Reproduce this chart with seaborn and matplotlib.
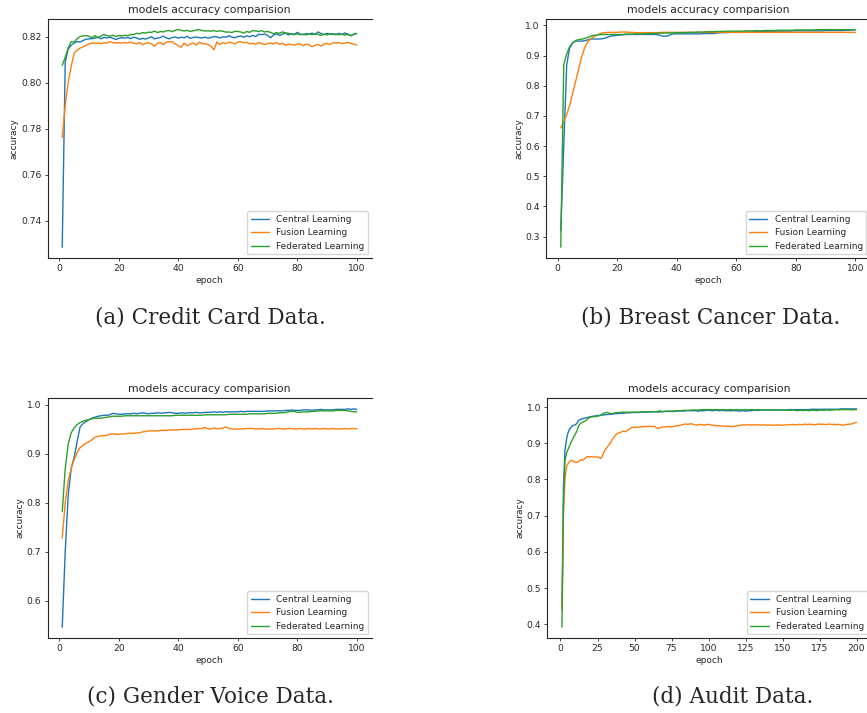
import matplotlib
matplotlib.use("Agg")
import matplotlib.pyplot as plt
import seaborn as sns
import pandas as pd

model_names = ["Central Learning", "Fusion Learning", "Federated Learning"]

# (a) Credit Card Data, 100 epochs
credit_central = [
    0.7285, 0.8090, 0.8145, 0.8162, 0.8172, 0.8178, 0.8176, 0.8183, 0.8188, 0.8190,
    0.8191, 0.8193, 0.8198, 0.8190, 0.8196, 0.8194, 0.8197, 0.8193, 0.8187, 0.8192,
    0.8195, 0.8193, 0.8196, 0.8191, 0.8197, 0.8194, 0.8188, 0.8192, 0.8189, 0.8194,
    0.8199, 0.8190, 0.8193, 0.8196, 0.8202, 0.8194, 0.8190, 0.8196, 0.8198, 0.8193,
    0.8197, 0.8195, 0.8201, 0.8192, 0.8196, 0.8198, 0.8195, 0.8194, 0.8197, 0.8193,
    0.8196, 0.8200, 0.8198, 0.8194, 0.8199, 0.8197, 0.8203, 0.8198, 0.8195, 0.8200,
    0.8202, 0.8197, 0.8203, 0.8199, 0.8205, 0.8200, 0.8210, 0.8208, 0.8211, 0.8205,
    0.8195, 0.8206, 0.8212, 0.8205, 0.8210, 0.8215, 0.8207, 0.8212, 0.8210, 0.8218,
    0.8211, 0.8208, 0.8213, 0.8210, 0.8215, 0.8209, 0.8220, 0.8213, 0.8208, 0.8214,
    0.8210, 0.8212, 0.8207, 0.8214, 0.8209, 0.8215, 0.8211, 0.8203, 0.8210, 0.8213,
]
credit_fusion = [
    0.7760, 0.7900, 0.8000, 0.8070, 0.8128, 0.8140, 0.8150, 0.8155, 0.8162, 0.8168,
    0.8172, 0.8170, 0.8172, 0.8169, 0.8173, 0.8171, 0.8178, 0.8174, 0.8172, 0.8173,
    0.8171, 0.8174, 0.8172, 0.8175, 0.8171, 0.8168, 0.8174, 0.8165, 0.8170, 0.8173,
    0.8168, 0.8158, 0.8170, 0.8174, 0.8165, 0.8176, 0.8178, 0.8177, 0.8168, 0.8160,
    0.8153, 0.8172, 0.8160, 0.8168, 0.8172, 0.8163, 0.8175, 0.8170, 0.8168, 0.8165,
    0.8158, 0.8143, 0.8177, 0.8165, 0.8173, 0.8170, 0.8175, 0.8172, 0.8168, 0.8176,
    0.8178, 0.8172, 0.8175, 0.8168, 0.8171, 0.8166, 0.8174, 0.8170, 0.8165, 0.8169,
    0.8172, 0.8168, 0.8174, 0.8166, 0.8171, 0.8162, 0.8167, 0.8165, 0.8163, 0.8167,
    0.8168, 0.8160, 0.8167, 0.8164, 0.8156, 0.8162, 0.8165, 0.8159, 0.8168, 0.8170,
    0.8165, 0.8173, 0.8171, 0.8174, 0.8169, 0.8172, 0.8175, 0.8170, 0.8167, 0.8163,
]
credit_federated = [
    0.8075, 0.8110, 0.8150, 0.8178, 0.8176, 0.8190, 0.8200, 0.8203, 0.8204, 0.8201,
    0.8195, 0.8204, 0.8194, 0.8202, 0.8209, 0.8204, 0.8202, 0.8206, 0.8200, 0.8204,
    0.8203, 0.8205, 0.8204, 0.8208, 0.8209, 0.8214, 0.8212, 0.8217, 0.8215, 0.8219,
    0.8218, 0.8224, 0.8217, 0.8222, 0.8220, 0.8225, 0.8226, 0.8221, 0.8228, 0.8230,
    0.8227, 0.8224, 0.8227, 0.8222, 0.8225, 0.8228, 0.8230, 0.8226, 0.8224, 0.8225,
    0.8223, 0.8226, 0.8222, 0.8225, 0.8223, 0.8219, 0.8220, 0.8217, 0.8223, 0.8222,
    0.8220, 0.8215, 0.8222, 0.8218, 0.8226, 0.8224, 0.8222, 0.8226, 0.8220, 0.8222,
    0.8218, 0.8212, 0.8217, 0.8214, 0.8220, 0.8216, 0.8214, 0.8210, 0.8208, 0.8212,
    0.8208, 0.8210, 0.8207, 0.8211, 0.8208, 0.8213, 0.8209, 0.8205, 0.8211, 0.8207,
    0.8212, 0.8209, 0.8211, 0.8208, 0.8210, 0.8206, 0.8209, 0.8204, 0.8210, 0.8214,
]

# (b) Breast Cancer Data, 100 epochs
cancer_central = [
    0.320, 0.600, 0.870, 0.925, 0.942, 0.948, 0.948, 0.948, 0.949, 0.952,
    0.955, 0.955, 0.955, 0.955, 0.956, 0.958, 0.962, 0.965, 0.966, 0.967,
    0.968, 0.969, 0.970, 0.970, 0.970, 0.970, 0.970, 0.970, 0.970, 0.970,
    0.970, 0.970, 0.970, 0.968, 0.965, 0.964, 0.965, 0.970, 0.972, 0.972,
    0.972, 0.972, 0.972, 0.972, 0.972, 0.972, 0.972, 0.972, 0.973, 0.973,
    0.973, 0.973, 0.974, 0.975, 0.976, 0.976, 0.976, 0.977, 0.977, 0.977,
    0.977, 0.977, 0.978, 0.978, 0.978, 0.979, 0.980, 0.980, 0.980, 0.980,
    0.980, 0.980, 0.981, 0.981, 0.981, 0.981, 0.981, 0.981, 0.982, 0.982,
    0.982, 0.982, 0.982, 0.982, 0.982, 0.982, 0.982, 0.982, 0.982, 0.983,
    0.983, 0.983, 0.983, 0.983, 0.983, 0.983, 0.984, 0.984, 0.985, 0.985,
]
cancer_fusion = [
    0.660, 0.680, 0.705, 0.735, 0.775, 0.815, 0.855, 0.895, 0.925, 0.945,
    0.955, 0.962, 0.967, 0.972, 0.975, 0.976, 0.977, 0.977, 0.977, 0.977,
    0.978, 0.978, 0.978, 0.977, 0.977, 0.976, 0.976, 0.976, 0.976, 0.976,
    0.976, 0.976, 0.976, 0.976, 0.977, 0.977, 0.977, 0.977, 0.977, 0.977,
    0.977, 0.977, 0.977, 0.977, 0.977, 0.977, 0.977, 0.977, 0.977, 0.977,
    0.977, 0.977, 0.977, 0.977, 0.977, 0.977, 0.977, 0.977, 0.977, 0.977,
    0.977, 0.977, 0.977, 0.977, 0.977, 0.977, 0.977, 0.977, 0.977, 0.977,
    0.977, 0.977, 0.977, 0.977, 0.977, 0.977, 0.977, 0.977, 0.977, 0.977,
    0.977, 0.977, 0.977, 0.977, 0.977, 0.977, 0.977, 0.977, 0.977, 0.977,
    0.977, 0.977, 0.977, 0.977, 0.977, 0.977, 0.977, 0.977, 0.977, 0.977,
]
cancer_federated = [
    0.265, 0.870, 0.905, 0.930, 0.942, 0.950, 0.953, 0.954, 0.957, 0.960,
    0.964, 0.967, 0.968, 0.969, 0.970, 0.970, 0.970, 0.970, 0.970, 0.970,
    0.970, 0.970, 0.971, 0.971, 0.971, 0.972, 0.972, 0.972, 0.972, 0.973,
    0.973, 0.973, 0.974, 0.974, 0.974, 0.975, 0.975, 0.975, 0.975, 0.976,
    0.976, 0.976, 0.976, 0.977, 0.977, 0.977, 0.978, 0.978, 0.978, 0.979,
    0.979, 0.979, 0.980, 0.980, 0.980, 0.980, 0.981, 0.981, 0.981, 0.981,
    0.981, 0.981, 0.982, 0.982, 0.982, 0.982, 0.983, 0.982, 0.983, 0.983,
    0.983, 0.983, 0.983, 0.984, 0.984, 0.984, 0.984, 0.984, 0.984, 0.985,
    0.985, 0.985, 0.985, 0.985, 0.985, 0.985, 0.986, 0.986, 0.986, 0.986,
    0.986, 0.986, 0.986, 0.986, 0.986, 0.986, 0.986, 0.986, 0.986, 0.986,
]

# (c) Gender Voice Data, 100 epochs
voice_central = [
    0.546, 0.700, 0.815, 0.870, 0.893, 0.925, 0.955, 0.962, 0.966, 0.970,
    0.973, 0.975, 0.977, 0.978, 0.979, 0.979, 0.980, 0.983, 0.982, 0.981,
    0.981, 0.982, 0.982, 0.982, 0.983, 0.982, 0.983, 0.984, 0.983, 0.982,
    0.983, 0.983, 0.984, 0.983, 0.984, 0.984, 0.985, 0.984, 0.983, 0.983,
    0.984, 0.983, 0.984, 0.984, 0.984, 0.985, 0.984, 0.984, 0.985, 0.985,
    0.985, 0.986, 0.985, 0.986, 0.985, 0.986, 0.986, 0.986, 0.986, 0.986,
    0.987, 0.986, 0.987, 0.987, 0.987, 0.987, 0.987, 0.987, 0.987, 0.988,
    0.988, 0.988, 0.988, 0.988, 0.988, 0.989, 0.989, 0.990, 0.989, 0.989,
    0.989, 0.990, 0.990, 0.990, 0.989, 0.990, 0.990, 0.991, 0.990, 0.990,
    0.990, 0.990, 0.991, 0.991, 0.991, 0.991, 0.992, 0.991, 0.992, 0.991,
]
voice_fusion = [
    0.728, 0.800, 0.845, 0.870, 0.888, 0.903, 0.913, 0.918, 0.922, 0.925,
    0.929, 0.934, 0.936, 0.937, 0.937, 0.938, 0.940, 0.941, 0.940, 0.940,
    0.941, 0.941, 0.942, 0.942, 0.942, 0.943, 0.943, 0.945, 0.946, 0.947,
    0.947, 0.947, 0.947, 0.948, 0.948, 0.948, 0.949, 0.949, 0.949, 0.949,
    0.950, 0.950, 0.950, 0.950, 0.951, 0.951, 0.952, 0.952, 0.954, 0.951,
    0.951, 0.953, 0.951, 0.952, 0.953, 0.955, 0.952, 0.951, 0.951, 0.951,
    0.951, 0.951, 0.952, 0.952, 0.952, 0.951, 0.951, 0.952, 0.951, 0.951,
    0.951, 0.951, 0.952, 0.952, 0.951, 0.951, 0.952, 0.952, 0.951, 0.951,
    0.952, 0.951, 0.951, 0.952, 0.951, 0.952, 0.951, 0.951, 0.952, 0.951,
    0.951, 0.952, 0.951, 0.951, 0.951, 0.952, 0.951, 0.952, 0.952, 0.951,
]
voice_federated = [
    0.782, 0.870, 0.920, 0.943, 0.953, 0.960, 0.964, 0.967, 0.969, 0.970,
    0.972, 0.973, 0.973, 0.973, 0.974, 0.975, 0.976, 0.977, 0.977, 0.977,
    0.977, 0.978, 0.978, 0.978, 0.978, 0.978, 0.978, 0.978, 0.978, 0.978,
    0.978, 0.978, 0.978, 0.978, 0.978, 0.978, 0.978, 0.978, 0.979, 0.979,
    0.979, 0.979, 0.979, 0.979, 0.979, 0.979, 0.979, 0.979, 0.980, 0.980,
    0.980, 0.980, 0.980, 0.980, 0.980, 0.980, 0.981, 0.981, 0.981, 0.981,
    0.981, 0.981, 0.981, 0.982, 0.982, 0.982, 0.982, 0.982, 0.982, 0.983,
    0.983, 0.983, 0.983, 0.984, 0.984, 0.985, 0.986, 0.987, 0.987, 0.985,
    0.985, 0.986, 0.986, 0.986, 0.987, 0.987, 0.988, 0.988, 0.988, 0.988,
    0.988, 0.988, 0.989, 0.989, 0.989, 0.989, 0.988, 0.987, 0.986, 0.986,
]

# (d) Audit Data, 200 epochs
audit_central = [
    0.440, 0.780, 0.880, 0.910, 0.928, 0.938, 0.944, 0.948, 0.950, 0.951,
    0.955, 0.962, 0.965, 0.967, 0.968, 0.969, 0.970, 0.971, 0.972, 0.973,
    0.974, 0.975, 0.975, 0.976, 0.977, 0.977, 0.977, 0.978, 0.978, 0.979,
    0.979, 0.980, 0.980, 0.980, 0.981, 0.981, 0.982, 0.982, 0.982, 0.983,
    0.983, 0.983, 0.983, 0.984, 0.984, 0.984, 0.984, 0.985, 0.985, 0.985,
    0.985, 0.985, 0.985, 0.986, 0.986, 0.986, 0.986, 0.986, 0.986, 0.987,
    0.987, 0.987, 0.987, 0.987, 0.987, 0.986, 0.987, 0.987, 0.987, 0.988,
    0.988, 0.988, 0.988, 0.988, 0.988, 0.988, 0.988, 0.989, 0.989, 0.989,
    0.989, 0.989, 0.989, 0.989, 0.990, 0.990, 0.990, 0.990, 0.990, 0.990,
    0.990, 0.990, 0.988, 0.990, 0.990, 0.990, 0.990, 0.991, 0.991, 0.991,
    0.991, 0.990, 0.990, 0.991, 0.991, 0.991, 0.990, 0.990, 0.991, 0.991,
    0.990, 0.990, 0.990, 0.990, 0.990, 0.990, 0.990, 0.990, 0.990, 0.989,
    0.989, 0.990, 0.990, 0.990, 0.989, 0.989, 0.990, 0.990, 0.990, 0.991,
    0.991, 0.991, 0.991, 0.991, 0.992, 0.992, 0.992, 0.992, 0.992, 0.992,
    0.992, 0.992, 0.992, 0.992, 0.992, 0.992, 0.992, 0.992, 0.992, 0.992,
    0.992, 0.992, 0.992, 0.993, 0.993, 0.993, 0.993, 0.993, 0.993, 0.993,
    0.993, 0.993, 0.993, 0.993, 0.993, 0.993, 0.993, 0.993, 0.994, 0.994,
    0.994, 0.994, 0.994, 0.994, 0.994, 0.994, 0.994, 0.994, 0.994, 0.994,
    0.994, 0.994, 0.994, 0.994, 0.994, 0.994, 0.994, 0.994, 0.995, 0.995,
    0.995, 0.995, 0.995, 0.995, 0.995, 0.995, 0.995, 0.995, 0.995, 0.995,
]
audit_fusion = [
    0.440, 0.700, 0.800, 0.835, 0.843, 0.848, 0.852, 0.853, 0.850, 0.847,
    0.847, 0.849, 0.852, 0.855, 0.853, 0.856, 0.860, 0.863, 0.863, 0.862,
    0.863, 0.862, 0.863, 0.862, 0.862, 0.861, 0.858, 0.862, 0.872, 0.880,
    0.886, 0.892, 0.897, 0.903, 0.910, 0.916, 0.922, 0.926, 0.928, 0.929,
    0.931, 0.933, 0.933, 0.932, 0.935, 0.938, 0.941, 0.943, 0.944, 0.944,
    0.944, 0.945, 0.944, 0.945, 0.945, 0.946, 0.946, 0.946, 0.947, 0.947,
    0.947, 0.946, 0.947, 0.945, 0.942, 0.941, 0.943, 0.944, 0.945, 0.945,
    0.945, 0.946, 0.946, 0.946, 0.945, 0.946, 0.947, 0.948, 0.948, 0.949,
    0.950, 0.951, 0.952, 0.953, 0.953, 0.952, 0.953, 0.954, 0.953, 0.952,
    0.951, 0.950, 0.951, 0.952, 0.952, 0.951, 0.950, 0.951, 0.952, 0.952,
    0.951, 0.950, 0.950, 0.949, 0.949, 0.948, 0.949, 0.948, 0.948, 0.947,
    0.948, 0.947, 0.947, 0.947, 0.946, 0.946, 0.947, 0.947, 0.948, 0.949,
    0.949, 0.950, 0.951, 0.951, 0.950, 0.951, 0.951, 0.951, 0.950, 0.951,
    0.951, 0.951, 0.950, 0.951, 0.951, 0.950, 0.951, 0.951, 0.950, 0.950,
    0.951, 0.950, 0.950, 0.950, 0.950, 0.951, 0.951, 0.950, 0.950, 0.950,
    0.950, 0.951, 0.951, 0.951, 0.951, 0.952, 0.952, 0.951, 0.951, 0.952,
    0.952, 0.952, 0.951, 0.952, 0.953, 0.952, 0.952, 0.953, 0.952, 0.952,
    0.952, 0.951, 0.952, 0.953, 0.953, 0.952, 0.953, 0.952, 0.952, 0.952,
    0.953, 0.953, 0.952, 0.952, 0.953, 0.951, 0.952, 0.952, 0.952, 0.950,
    0.950, 0.951, 0.952, 0.952, 0.953, 0.953, 0.954, 0.955, 0.957, 0.958,
]
audit_federated = [
    0.392, 0.740, 0.850, 0.872, 0.882, 0.892, 0.902, 0.910, 0.918, 0.925,
    0.933, 0.945, 0.953, 0.956, 0.958, 0.960, 0.962, 0.966, 0.970, 0.972,
    0.973, 0.973, 0.974, 0.974, 0.975, 0.976, 0.977, 0.980, 0.983, 0.984,
    0.985, 0.985, 0.983, 0.982, 0.982, 0.983, 0.984, 0.985, 0.985, 0.985,
    0.986, 0.986, 0.986, 0.986, 0.986, 0.986, 0.986, 0.986, 0.986, 0.986,
    0.986, 0.986, 0.986, 0.987, 0.986, 0.987, 0.987, 0.987, 0.987, 0.987,
    0.987, 0.987, 0.988, 0.987, 0.988, 0.988, 0.990, 0.988, 0.988, 0.988,
    0.988, 0.989, 0.989, 0.989, 0.989, 0.989, 0.989, 0.990, 0.990, 0.990,
    0.990, 0.991, 0.991, 0.991, 0.991, 0.991, 0.991, 0.992, 0.992, 0.992,
    0.992, 0.992, 0.992, 0.992, 0.993, 0.993, 0.993, 0.993, 0.993, 0.993,
    0.993, 0.993, 0.993, 0.993, 0.993, 0.993, 0.993, 0.992, 0.993, 0.993,
    0.993, 0.992, 0.993, 0.993, 0.993, 0.993, 0.992, 0.993, 0.993, 0.993,
    0.993, 0.993, 0.992, 0.993, 0.993, 0.993, 0.992, 0.993, 0.993, 0.993,
    0.992, 0.992, 0.993, 0.993, 0.992, 0.992, 0.993, 0.992, 0.992, 0.993,
    0.992, 0.992, 0.992, 0.992, 0.992, 0.992, 0.992, 0.991, 0.992, 0.992,
    0.992, 0.991, 0.991, 0.992, 0.991, 0.991, 0.992, 0.991, 0.991, 0.990,
    0.991, 0.991, 0.991, 0.990, 0.991, 0.991, 0.991, 0.990, 0.991, 0.991,
    0.991, 0.991, 0.990, 0.991, 0.991, 0.992, 0.991, 0.991, 0.992, 0.992,
    0.992, 0.991, 0.992, 0.992, 0.992, 0.993, 0.993, 0.992, 0.993, 0.993,
    0.993, 0.993, 0.993, 0.993, 0.993, 0.993, 0.992, 0.993, 0.993, 0.993,
]

captions = ["(a) Credit Card Data.", "(b) Breast Cancer Data.",
            "(c) Gender Voice Data.", "(d) Audit Data."]


def long_frame(central, fusion, federated):
    rows = []
    for name, vals in zip(model_names, [central, fusion, federated]):
        for i, v in enumerate(vals):
            rows.append({"epoch": i + 1, "accuracy": v, "model": name})
    return pd.DataFrame(rows)


sns.set_style("ticks")
plt.rcParams["font.family"] = ["DejaVu Sans"]

fig = plt.figure(figsize=(8.67, 7.13), dpi=100)

panels = [
    (long_frame(credit_central, credit_fusion, credit_federated), [0.0548, 0.6381, 0.3737, 0.3356]),
    (long_frame(cancer_central, cancer_fusion, cancer_federated), [0.6298, 0.6381, 0.3737, 0.3356]),
    (long_frame(voice_central, voice_fusion, voice_federated), [0.0548, 0.1052, 0.3737, 0.3366]),
    (long_frame(audit_central, audit_fusion, audit_federated), [0.6312, 0.1052, 0.3737, 0.3366]),
]

palette = sns.color_palette("tab10")[:3]

for df, rect in panels:
    ax = fig.add_axes(rect)
    sns.lineplot(data=df, x="epoch", y="accuracy", hue="model",
                 hue_order=model_names, palette=palette, linewidth=1.0, ax=ax)
    ax.set_title("models accuracy comparision", fontsize=7.8, pad=4)
    ax.set_xlabel("epoch", fontsize=6.5, labelpad=2)
    ax.set_ylabel("accuracy", fontsize=6.5, labelpad=1.5)
    ax.tick_params(labelsize=6.6, length=2.5, width=0.6, pad=2)
    ax.spines["right"].set_visible(False)
    for s in ["left", "top", "bottom"]:
        ax.spines[s].set_linewidth(0.8)
    handles, labels = ax.get_legend_handles_labels()
    ax.legend(handles, labels, loc="lower right", fontsize=6.5,
              handlelength=2.0, borderaxespad=0.4)

cap_pos = [(210, 318), (711, 318), (210, 697), (733, 697)]
for text, (px, py) in zip(captions, cap_pos):
    fig.text(px / 867, 1 - py / 713, text, ha="center", va="center",
             fontsize=15.5, family=["DejaVu Serif"])

fig.savefig("out.png", dpi=100)
